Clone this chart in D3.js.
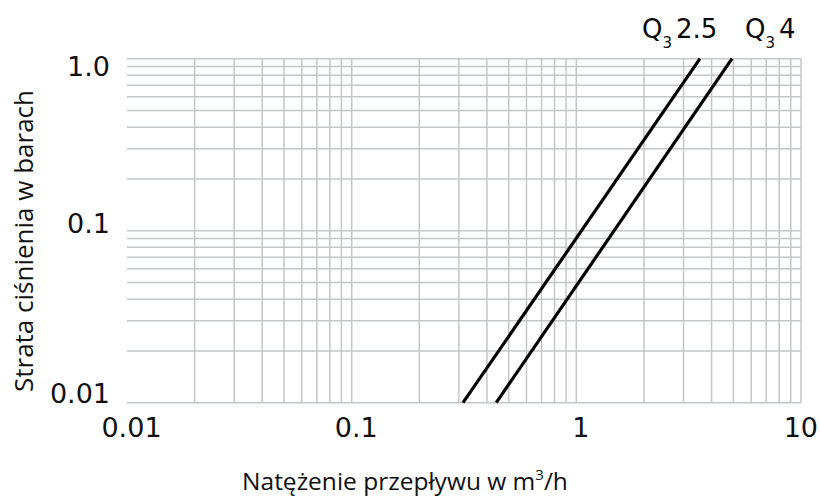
<!DOCTYPE html>
<html>
<head>
<meta charset="utf-8">
<script src="https://cdn.jsdelivr.net/npm/d3@7/dist/d3.min.js"></script>
<style>
  html, body { margin: 0; padding: 0; background: #fff; }
  svg { display: block; }
</style>
</head>
<body>
<svg id="chart" width="820" height="497"></svg>
<script>
// ---- data ----
const xTickValues = [0.01, 0.1, 1, 10];
const xTickLabels = ["0.01", "0.1", "1", "10"];
const yTickValues = [0.01, 0.1, 1];
const yTickLabels = ["0.01", "0.1", "1.0"];

const seriesNames = ["2.5", "4"];
const flowQ25 = [0.313, 3.55];
const lossQ25 = [0.01, 1.0];
const flowQ4 = [0.44, 4.93];
const lossQ4 = [0.01, 1.0];

const xTitle = "Natężenie przepływu w m";
const yTitle = "Strata ciśnienia w barach";

// ---- layout ----
(function () {
const svg = d3.select("#chart");
const W = 820;
const pl = 127, pr = 801, pt = 58.7, pb = 402.7;

const x = d3.scaleLog().domain([0.01, 10]).range([pl, pr]);
const y = d3.scaleLog().domain([0.01, 1]).range([pb, pt]);

const gridColor = "#c3c7c7";

function logGrid(lo, hi) {
  const out = [];
  for (let d = lo; d < hi * 0.999; d *= 10) {
    for (let m = 1; m <= 9; m++) out.push(+(d * m).toPrecision(3));
  }
  out.push(hi);
  return out;
}
const xGrid = logGrid(0.01, 10).filter(v => v > 0.01);
const yGrid = logGrid(0.01, 1);

const g = svg.append("g");

g.selectAll("line.vg").data(xGrid).enter().append("line")
  .attr("class", "vg")
  .attr("x1", d => x(d)).attr("x2", d => x(d))
  .attr("y1", pt).attr("y2", pb)
  .attr("stroke", gridColor).attr("stroke-width", 1.5);

g.selectAll("line.hg").data(yGrid).enter().append("line")
  .attr("class", "hg")
  .attr("x1", pl).attr("x2", pr)
  .attr("y1", d => y(d)).attr("y2", d => y(d))
  .attr("stroke", gridColor).attr("stroke-width", 1.5);

// ---- tick labels via d3 axes ----
const xAxis = d3.axisBottom(x).tickValues(xTickValues)
  .tickFormat((d, i) => xTickLabels[i]).tickSize(0).tickPadding(0);
const xa = svg.append("g").attr("transform", `translate(4,${pb + 15})`).call(xAxis);
xa.select(".domain").remove();
xa.selectAll("text").attr("font-family", "DejaVu Sans").attr("font-size", 27)
  .attr("fill", "#111");
// keep labels inside the picture
xa.selectAll("text").each(function () {
  const b = this.getBBox();
  const tr = this.parentNode.transform.baseVal.consolidate().matrix.e + 4;
  const rightEdge = tr + b.x + b.width;
  if (rightEdge > W - 2) d3.select(this).attr("dx", (W - 2 - rightEdge) + "px");
});

const yAxis = d3.axisLeft(y).tickValues(yTickValues)
  .tickFormat((d, i) => yTickLabels[i]).tickSize(0).tickPadding(0);
const ya = svg.append("g").attr("transform", `translate(110,0)`).call(yAxis);
ya.select(".domain").remove();
ya.selectAll("text").attr("font-family", "DejaVu Sans").attr("font-size", 27)
  .attr("fill", "#111").attr("dy", "0.05em");
// keep labels inside the plot's vertical band
const capH = 20;
ya.selectAll(".tick").each(function (d) {
  const yy = y(d);
  let base = yy + 1.35;
  if (base > pb) base = pb;
  if (base - capH < pt - 3) base = pt - 3 + capH;
  d3.select(this).select("text").attr("dy", (base - yy) + "px");
});

// ---- series lines ----
const line = d3.line().x(d => x(d[0])).y(d => y(d[1]));
const seriesData = [
  d3.zip(flowQ25, lossQ25),
  d3.zip(flowQ4, lossQ4)
];
svg.selectAll("path.series").data(seriesData).enter().append("path")
  .attr("class", "series")
  .attr("d", line)
  .attr("fill", "none").attr("stroke", "#000").attr("stroke-width", 3.2);

// ---- series labels ----
const labelAnchors = [
  { x: x(flowQ25[1]) - 58, y: 38 },
  { x: x(flowQ4[1]) + 13, y: 38 }
];
seriesNames.forEach((name, i) => {
  const t = svg.append("text")
    .attr("x", labelAnchors[i].x).attr("y", labelAnchors[i].y)
    .attr("font-family", "DejaVu Sans").attr("font-size", 26).attr("fill", "#0a0a0a");
  t.append("tspan").text("Q");
  t.append("tspan").text("3").attr("font-size", 15).attr("dy", 10).attr("dx", 0);
  t.append("tspan").text(name).attr("dy", -10).attr("dx", 4);
});

// ---- axis titles ----
const xt = svg.append("text")
  .attr("x", 405).attr("y", 490)
  .attr("text-anchor", "middle")
  .attr("font-family", "Open Sans").attr("font-size", 24.5).attr("fill", "#111");
xt.append("tspan").text(xTitle);
xt.append("tspan").text("3").attr("font-size", 15).attr("dy", -10);
xt.append("tspan").text("/h").attr("dy", 10);

svg.append("text")
  .attr("transform", "translate(33,241) rotate(-90)")
  .attr("text-anchor", "middle")
  .attr("font-family", "Open Sans").attr("font-size", 26).attr("fill", "#111")
  .text(yTitle);
})();
</script>
</body>
</html>
